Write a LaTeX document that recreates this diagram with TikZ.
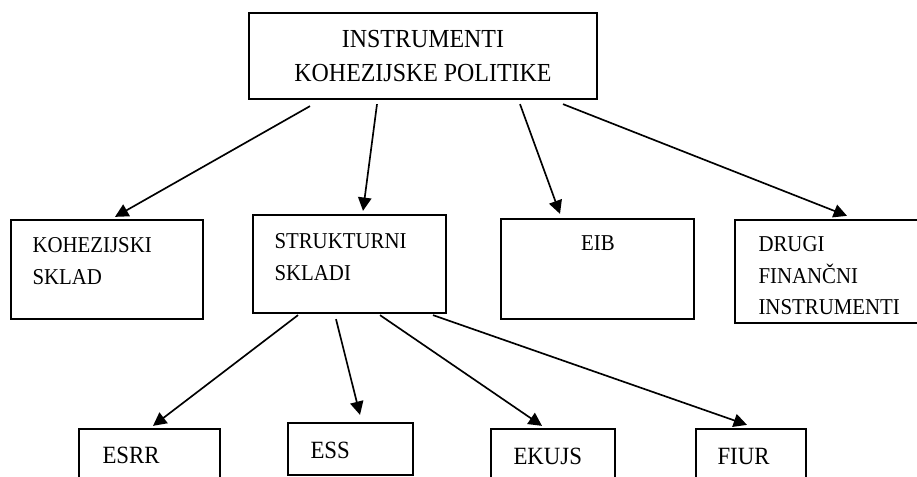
\documentclass[tikz,border=0pt]{standalone}
\usepackage{fontspec}
\setmainfont{Liberation Serif}
\newfontfamily\scanfont[FakeStretch=0.92]{Liberation Serif}
\usetikzlibrary{arrows.meta,calc}

\tikzset{every picture/.style={line width=0.75pt}}
\tikzset{
  box/.style 2 args={draw, line width=1.7pt, inner sep=0pt, minimum width=#1*0.75pt, minimum height=#2*0.75pt},
  lbl/.style={inner sep=0pt, align=left, font=\scanfont\fontsize{17}{23.6}\selectfont},
  lblsmall/.style={inner sep=0pt, align=left, font=\scanfont\fontsize{18.6}{20}\selectfont},
  arrow/.style={line width=1.25pt, -{Triangle[length=10pt,width=10pt]}}
}

\begin{document}
\begin{tikzpicture}[x=0.75pt,y=0.75pt,yscale=-1,xscale=1]
            %set diagram to the size of the page
            \clip (0,0) rectangle (917,477);

            %Shape: Rectangle [top]
            \node[box={348}{86}, align=center, font=\scanfont\fontsize{19.5}{26}\selectfont] (instr) at (423,56) {INSTRUMENTI\\KOHEZIJSKE POLITIKE};
            %Shape: Rectangle [second row]
            \node[box={192}{99}] (ks) at (107,269.5) {};
            \node[box={193}{98}] (ss) at (349.5,264) {};
            \node[box={193}{100}] (eib) at (597.5,269) {};
            \node[box={195}{103}] (drugi) at (832.5,271.5) {};
            %Shape: Rectangle [third row]
            \node[box={141}{61}] (esrr) at (149.5,459.5) {};
            \node[box={125}{52}] (ess) at (350.5,449) {};
            \node[box={124}{61}] (ekujs) at (553,459.5) {};
            \node[box={110}{61}] (fiur) at (751,459.5) {};

            % Text Node
            \node[lbl, anchor=west] (ks-txt) at (32,261) {KOHEZIJSKI\\SKLAD};
            % Text Node
            \node[lbl, anchor=west] (ss-txt) at (274,257) {STRUKTURNI\\SKLADI};
            % Text Node
            \node[lbl] (eib-txt) at (598,243) {EIB};
            % Text Node
            \node[lbl, anchor=west] (drugi-txt) at (758,276) {DRUGI\\FINANČNI\\INSTRUMENTI};
            % Text Node
            \node[lblsmall, anchor=west] (esrr-txt) at (102,455) {ESRR};
            % Text Node
            \node[lblsmall, anchor=west] (ess-txt) at (310,450) {ESS};
            % Text Node
            \node[lblsmall, anchor=west] (ekujs-txt) at (513,456) {EKUJS};
            % Text Node
            \node[lblsmall, anchor=west] (fiur-txt) at (717,456) {FIUR};

            %Straight Lines [top to second row]
            \draw[arrow] ($(instr.south)+(-113,6)$) -- ($(ks.north)+(8,-2)$);
            \draw[arrow] ($(instr.south)+(-46,4)$) -- ($(ss.north)+(13.5,-3)$);
            \draw[arrow] ($(instr.south)+(97,4)$) -- ($(eib.north)+(-37.5,-4)$);
            \draw[arrow] ($(instr.south)+(140,4)$) -- ($(drugi.north)+(14.5,-3)$);
            %Straight Lines [strukturni skladi to third row]
            \draw[arrow] ($(ss.south)+(-51.5,1)$) -- ($(esrr.north)+(3.5,-2)$);
            \draw[arrow] ($(ss.south)+(-13.5,5)$) -- ($(ess.north)+(9.5,-7)$);
            \draw[arrow] ($(ss.south)+(30.5,1)$) -- ($(ekujs.north)+(-11,-2)$);
            \draw[arrow] ($(ss.south)+(83.5,1)$) -- ($(fiur.north)+(-4,-3)$);
\end{tikzpicture}
\end{document}
